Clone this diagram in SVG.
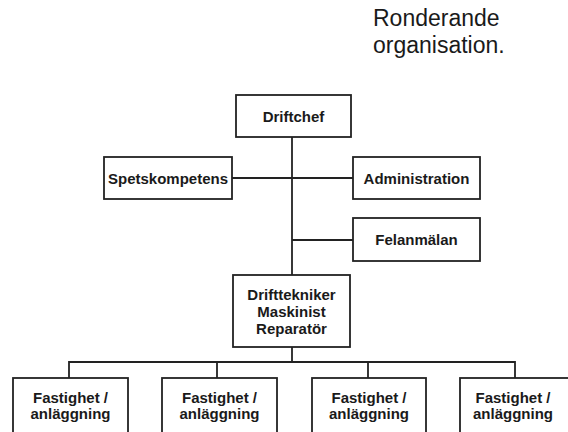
<svg xmlns="http://www.w3.org/2000/svg" width="568" height="432" viewBox="0 0 568 432">
<style>
.box{fill:#fff;stroke:#222;stroke-width:1.8}
.lbl{font-family:"Liberation Sans",Arial,sans-serif;font-weight:bold;font-size:15px;fill:#1a1a1a;text-anchor:middle}
.ttl{font-family:"Liberation Sans",Arial,sans-serif;font-size:23px;fill:#1a1a1a}
.con{fill:none;stroke:#222;stroke-width:1.8}
</style>
<rect width="568" height="432" fill="#fff"/>
<g id="title">
<text class="ttl" x="373" y="26">Ronderande</text>
<text class="ttl" x="373" y="53">organisation.</text>
</g>
<g id="connectors">
<path class="con" d="M292,137 V275"/>
<path class="con" d="M232,178 H353"/>
<path class="con" d="M292,240 H353"/>
<path class="con" d="M292,347 V362"/>
<path class="con" d="M69,378 V362 H515 V378"/>
<path class="con" d="M217,362 V378"/>
<path class="con" d="M368,362 V378"/>
</g>
<g id="driftchef">
<rect class="box" x="236" y="95" width="115" height="42"/>
<text class="lbl" x="293.5" y="121.5">Driftchef</text>
</g>
<g id="spetskompetens">
<rect class="box" x="104" y="157" width="128" height="42"/>
<text class="lbl" x="168" y="183.5">Spetskompetens</text>
</g>
<g id="administration">
<rect class="box" x="353" y="157" width="127" height="42"/>
<text class="lbl" x="416.5" y="183.5">Administration</text>
</g>
<g id="felanmalan">
<rect class="box" x="353" y="218" width="127" height="43"/>
<text class="lbl" x="416.5" y="245">Felanmälan</text>
</g>
<g id="drifttekniker">
<rect class="box" x="233" y="275" width="117" height="72"/>
<text class="lbl" x="291.5" y="299.5">Drifttekniker</text>
<text class="lbl" x="291.5" y="316.5">Maskinist</text>
<text class="lbl" x="291.5" y="333.5">Reparatör</text>
</g>
<g id="fastighet1">
<rect class="box" x="13" y="378" width="115" height="62"/>
<text class="lbl" x="70.5" y="402.5">Fastighet /</text>
<text class="lbl" x="70.5" y="418.5">anläggning</text>
</g>
<g id="fastighet2">
<rect class="box" x="162" y="378" width="115" height="62"/>
<text class="lbl" x="219.5" y="402.5">Fastighet /</text>
<text class="lbl" x="219.5" y="418.5">anläggning</text>
</g>
<g id="fastighet3">
<rect class="box" x="312" y="378" width="114" height="62"/>
<text class="lbl" x="369" y="402.5">Fastighet /</text>
<text class="lbl" x="369" y="418.5">anläggning</text>
</g>
<g id="fastighet4">
<rect class="box" x="460" y="378" width="115" height="62"/>
<text class="lbl" x="513" y="402.5">Fastighet /</text>
<text class="lbl" x="513" y="418.5">anläggning</text>
</g>
</svg>
